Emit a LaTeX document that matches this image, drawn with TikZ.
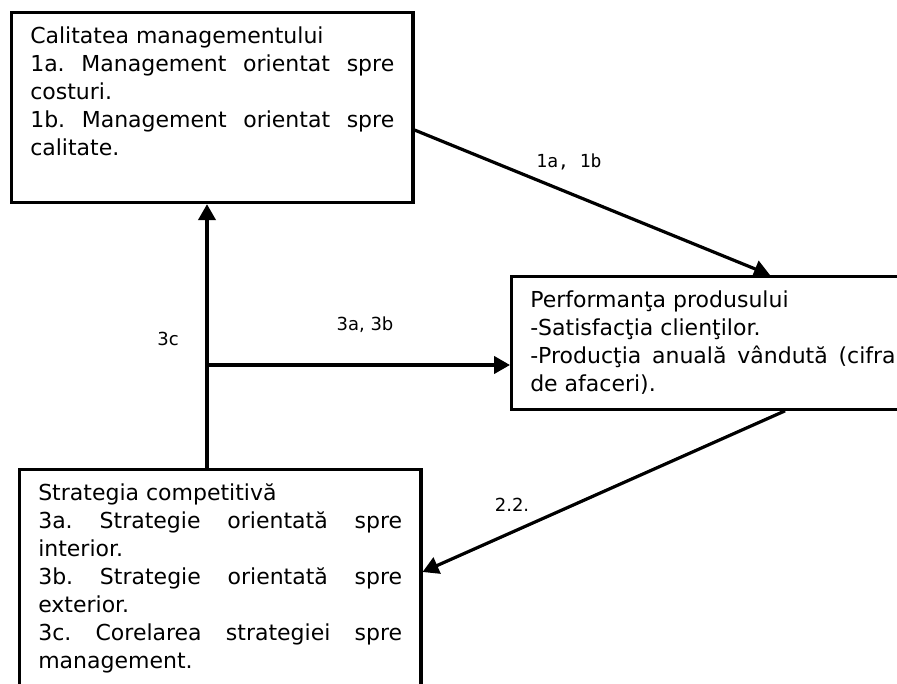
\documentclass[tikz,border=0pt]{standalone}
\usepackage{fontspec}
\setmainfont{DejaVu Sans}
\newfontfamily\monofnt{DejaVu Sans Mono}
\usetikzlibrary{arrows.meta}

\begin{document}
\frenchspacing
\begin{tikzpicture}[x=0.75pt, y=-0.75pt,
	box/.style={draw, line width=2.4pt, anchor=north west, align=justify,
		inner xsep=14pt, inner ysep=9pt, text height=14pt,
		font=\fontsize{16.5}{21}\selectfont\frenchspacing},
	link/.style={line width=2.4pt, -{Triangle[length=12pt,width=13pt]}},
	tag/.style={font=\fontsize{13.5}{16}\selectfont},
	monotag/.style={font=\monofnt\fontsize{13.5}{16}\selectfont}]
	\useasboundingbox (0,0) rectangle (897,684);

	% the three boxes
	\node[box, text width=273pt, text depth=110.5pt] (b1) at (10,11)
		{Calitatea managementului\par
		1a. Management orientat spre\linebreak costuri.\par
		1b. Management orientat spre\linebreak calitate.};
	\node[box, text width=274pt, text depth=67.5pt] (b2) at (510,275)
		{Performanţa produsului\par
		-Satisfacţia clienţilor.\par
		-Producţia anuală vândută (cifra\linebreak de afaceri).};
	\node[box, text width=273pt, text depth=150pt] (b3) at (18,468)
		{Strategia competitivă\par
		3a. Strategie orientată spre\linebreak interior.\par
		3b. Strategie orientată spre\linebreak exterior.\par
		3c. Corelarea strategiei spre\linebreak management.};

	% connectors
	\path (b3.north west) ++(189,0) coordinate (v3);
	\draw[link] (v3) -- (v3 |- b1.south);
	\path (v3) ++(0,-103) coordinate (j);
	\draw[link] (j) -- (j -| b2.west);
	\path (b1.north east) ++(0,119) coordinate (a1);
	\path (b2.north west) ++(260,0) coordinate (a2);
	\draw[link] (a1) -- (a2);
	\path (b2.south west) ++(275,0) coordinate (a3);
	\path (b3.north east) ++(0,104) coordinate (a4);
	\draw[link] (a3) -- (a4);

	% labels
	\node[monotag] (l1) at (569,162) {1a, 1b};
	\node[tag] (l3c) at (168,339) {3c};
	\node[tag] (l3ab) at (365,325) {3a, 3b};
	\node[tag] (l22) at (512,505) {2.2.};
\end{tikzpicture}
\end{document}
